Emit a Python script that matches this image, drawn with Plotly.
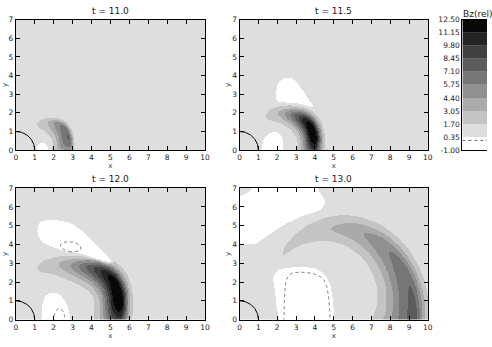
import numpy as np
import plotly.graph_objects as go

# ---------------- data ----------------
panel_titles = ["t = 11.0", "t = 11.5", "t = 12.0", "t = 13.0"]

levels = [-1.00, 0.35, 1.70, 3.05, 4.40, 5.75, 7.10, 8.45, 9.80, 11.15, 12.50]
level_labels = ["-1.00", "0.35", "1.70", "3.05", "4.40", "5.75", "7.10", "8.45", "9.80", "11.15", "12.50"]
band_grays = [255, 222, 196, 170, 144, 118, 92, 64, 36, 8]
zero_level = 0.0
background_value = 1.0
body_radius = 1.0

x_ticks = list(range(0, 11))
y_ticks = list(range(0, 8))

# disturbance front (outer boundary superellipse) per panel
front_cx = [1.80, 2.50, 3.00, 5.50]
front_ax = [1.32, 2.10, 3.20, 4.60]
front_by = [1.72, 2.38, 3.37, 5.35]
front_n = [2.5, 2.5, 3.0, 2.0]
peak_inset = [0.20, 0.29, 0.22, 0.18]
peak_inset_top = [0.15, 0.20, 0.15, 0.10]
peak_amp = [6.2, 12.0, 12.0, 6.5]
width_out = [0.13, 0.16, 0.13, 0.12]
width_in = [0.55, 0.28, 0.27, 0.33]
width_in_top = [0.38, 0.22, 0.20, 0.14]
peak_angle = [27.0, 28.0, 25.0, 0.0]
ang_w_near = [42.0, 46.0, 41.0, 92.0]
ang_w_far = [66.0, 58.0, 60.0, 92.0]

# outlines of the depleted (white, Bz < 0.35) regions and dotted (Bz = 0) contours
white_t110 = [[(1.10, -0.5), (1.10, 0.10), (1.20, 0.30), (1.40, 0.40), (1.60, 0.30), (1.70, 0.10), (1.70, -0.5)]]
white_t115 = [[(1.18, -0.5), (1.18, 0.0), (1.26, 0.55), (1.50, 0.85), (1.88, 0.98), (2.15, 0.85),
               (2.30, 0.55), (2.32, 0.0), (2.32, -0.5)],
              [(1.96, 2.62), (1.96, 3.30), (2.10, 3.65), (2.40, 3.87), (2.84, 3.87), (3.28, 3.30),
               (3.63, 2.80), (3.98, 2.22), (3.60, 2.38), (3.00, 2.50), (2.40, 2.56), (2.10, 2.58)]]
white_t120 = [[(1.35, -0.5), (1.35, 0.0), (1.40, 0.80), (1.60, 1.30), (1.90, 1.45), (2.30, 1.35),
               (2.60, 1.00), (2.80, 0.50), (2.90, 0.0), (2.90, -0.5)],
              [(1.15, 4.28), (1.15, 5.15), (1.70, 5.32), (2.74, 5.23), (3.44, 4.80), (4.13, 4.11),
               (4.82, 3.42), (5.14, 2.99), (4.48, 3.16), (3.60, 3.47), (2.70, 3.62), (1.87, 3.85)]]
white_t130 = [[(-0.5, 4.00), (0.70, 3.95), (1.22, 4.25), (1.92, 4.77), (2.80, 5.28), (3.66, 5.63),
               (4.36, 5.80), (4.62, 6.31), (4.19, 6.83), (4.00, 7.50), (1.05, 7.50), (0.50, 6.75),
               (0.00, 6.57), (-0.5, 6.50)],
              [(2.10, -0.5), (2.10, 0.0), (1.92, 1.00), (1.83, 1.85), (1.75, 2.20), (2.00, 2.60),
               (2.27, 2.71), (3.50, 2.80), (4.36, 2.62), (4.89, 1.85), (5.06, 0.0), (5.06, -0.5)]]
dotted_t110 = []
dotted_t115 = []
dotted_t120 = [[(2.00, -0.5), (2.00, 0.0), (2.05, 0.40), (2.30, 0.65), (2.55, 0.40), (2.60, 0.0), (2.60, -0.5)],
               [(2.31, 3.95), (2.50, 4.12), (2.90, 4.16), (3.30, 4.05), (3.49, 3.80), (3.30, 3.62),
                (2.90, 3.59), (2.50, 3.72)]]
dotted_t130 = [[(2.35, -0.5), (2.35, 0.0), (2.40, 1.90), (2.60, 2.40), (3.00, 2.54), (3.80, 2.50),
                (4.40, 2.25), (4.65, 1.85), (4.80, 0.60), (4.80, 0.0), (4.80, -0.5)]]
white_all = [white_t110, white_t115, white_t120, white_t130]
dotted_all = [dotted_t110, dotted_t115, dotted_t120, dotted_t130]

# ---------------- field construction ----------------
xg = np.linspace(-0.2, 10.2, 417)
yg = np.linspace(-0.2, 7.2, 297)
X, Y = np.meshgrid(xg, yg)


def chaikin(pts, it=3):
    P = np.array(pts, float)
    for _ in range(it):
        Q = np.roll(P, -1, axis=0)
        P = np.stack([0.75 * P + 0.25 * Q, 0.25 * P + 0.75 * Q], axis=1).reshape(-1, 2)
    return P


def signed_dist(pts):
    P = chaikin(pts)
    n = len(P)
    dmin = np.full(X.shape, np.inf)
    inside = np.zeros(X.shape, bool)
    for i in range(n):
        ax_, ay_ = P[i]
        bx, by = P[(i + 1) % n]
        ex, ey = bx - ax_, by - ay_
        L2 = ex * ex + ey * ey + 1e-12
        t = np.clip(((X - ax_) * ex + (Y - ay_) * ey) / L2, 0, 1)
        dmin = np.minimum(dmin, np.hypot(X - (ax_ + t * ex), Y - (ay_ + t * ey)))
        cond = ((ay_ > Y) != (by > Y)) & (X < ex * (Y - ay_) / (ey + 1e-12) + ax_)
        inside ^= cond
    return np.where(inside, dmin, -dmin)


def region_dip(sd, bval, floor):
    return np.where(sd >= 0, np.maximum(bval - 2.0 * sd, floor), bval * np.exp(sd / 0.12))


def field(k):
    n = front_n[k]
    u = (X - front_cx[k]) / front_ax[k]
    v = Y / front_by[k]
    rho = (np.abs(u) ** n + np.abs(v) ** n) ** (1.0 / n)
    phi = np.degrees(np.arctan2(np.abs(v), u))
    frac = phi / 90.0
    inset = np.maximum(peak_inset[k] + (peak_inset_top[k] - peak_inset[k]) * frac, 0.03)
    wi = np.maximum(width_in[k] + (width_in_top[k] - width_in[k]) * frac, 0.05)
    d = rho - (1.0 - inset)
    w = np.where(d < 0, wi, width_out[k])
    prof = np.exp(-(d / w) ** 2)
    dphi = phi - peak_angle[k]
    aw = np.where(dphi < 0, ang_w_near[k], ang_w_far[k])
    amp = peak_amp[k] * np.exp(-(dphi / aw) ** 2)
    ring = amp * prof
    D = np.zeros_like(X)
    mask = np.ones_like(X)
    for pts in white_all[k]:
        sd = signed_dist(pts)
        D = np.minimum(D, region_dip(sd, -0.65, -0.92))
        mask = np.minimum(mask, np.clip(-sd / 0.15, 0, 1))
    for pts in dotted_all[k]:
        sd = signed_dist(pts)
        D = np.minimum(D, region_dip(sd, -1.0, -1.3))
    return background_value + ring * mask + D


# stepped colour scale: one flat grey per contour band between levels[0] and levels[-1]
nb = len(band_grays)
cscale = []
for i, g in enumerate(band_grays):
    c = f"rgb({g},{g},{g})"
    cscale.append([i / nb, c])
    cscale.append([(i + 1) / nb, c])

step = levels[1] - levels[0]

fig = go.Figure()

W, H = 492, 347
px_x = [(14, 206), (241, 432), (14, 206), (241, 432)]
px_y = [(16, 150), (16, 150), (189, 324), (189, 324)]

th = np.linspace(0, np.pi / 2, 60)
FONT = "DejaVu Sans"

for k in range(4):
    ax = "" if k == 0 else str(k + 1)
    z = field(k)
    fig.add_trace(go.Heatmap(
        x=xg, y=yg, z=z, xaxis="x" + ax, yaxis="y" + ax, zmin=levels[0], zmax=levels[-1],
        colorscale=cscale, showscale=False, hoverinfo="skip"))
    if dotted_all[k]:
        fig.add_trace(go.Contour(
            x=xg, y=yg, z=z, xaxis="x" + ax, yaxis="y" + ax,
            contours=dict(start=zero_level, end=zero_level, size=1, coloring="none"),
            line=dict(color="#666666", width=1, dash="dot"), showscale=False, hoverinfo="skip"))
    fig.add_trace(go.Scatter(
        x=body_radius * np.cos(th), y=body_radius * np.sin(th), mode="lines",
        line=dict(color="black", width=1), xaxis="x" + ax, yaxis="y" + ax,
        showlegend=False, hoverinfo="skip"))
    x0, x1 = px_x[k]
    y0, y1 = px_y[k]
    axis_common = dict(showline=True, linecolor="black", linewidth=1, mirror="ticks",
                       ticks="inside", ticklen=4, tickcolor="black", showgrid=False,
                       zeroline=False, tickfont=dict(size=7.5, color="#222", family=FONT))
    fig.layout["xaxis" + ax] = dict(domain=[x0 / W, x1 / W], range=[0, 10], tickvals=x_ticks,
                                    anchor="y" + ax,
                                    title=dict(text="x", font=dict(size=7, family=FONT), standoff=0),
                                    **axis_common)
    fig.layout["yaxis" + ax] = dict(domain=[1 - y1 / H, 1 - y0 / H], range=[0, 7], tickvals=y_ticks,
                                    anchor="x" + ax,
                                    title=dict(text="y", font=dict(size=7, family=FONT), standoff=0),
                                    **axis_common)
    fig.add_annotation(text=panel_titles[k], x=(x0 + x1) / 2 / W, y=1 - (y0 - 2) / H,
                       xref="paper", yref="paper", xanchor="center", yanchor="bottom",
                       showarrow=False, font=dict(size=9, family=FONT, color="#222"))

# colour bar as stacked bars
for i in range(len(band_grays)):
    g = band_grays[i]
    fig.add_trace(go.Bar(x=[0], y=[step], base=[levels[i]], width=1.0,
                         marker=dict(color=f"rgb({g},{g},{g})", line=dict(width=0)),
                         xaxis="x5", yaxis="y5", showlegend=False, hoverinfo="skip"))
fig.add_trace(go.Scatter(x=[-0.5, 0.5], y=[zero_level, zero_level], mode="lines",
                         line=dict(color="#666666", width=1, dash="dot"),
                         xaxis="x5", yaxis="y5", showlegend=False, hoverinfo="skip"))
fig.layout["xaxis5"] = dict(domain=[467 / W, 1.0], range=[-0.5, 0.5], showticklabels=False,
                            showline=True, mirror=True, linecolor="black", ticks="",
                            showgrid=False, zeroline=False, anchor="y5")
fig.layout["yaxis5"] = dict(domain=[1 - 150 / H, 1 - 16 / H], range=[levels[0], levels[-1]],
                            tickvals=levels, ticktext=level_labels, ticks="", showline=True,
                            linecolor="black", showgrid=False, zeroline=False, anchor="x5",
                            tickfont=dict(size=7.5, color="#222", family=FONT))
fig.add_annotation(text="Bz(rel)", x=466 / W, y=1 - 3 / H, xref="paper", yref="paper",
                   xanchor="left", yanchor="top", showarrow=False,
                   font=dict(size=9, family=FONT, color="#222"))

fig.update_layout(width=W, height=H, margin=dict(l=0, r=0, t=0, b=0),
                  paper_bgcolor="white", plot_bgcolor="white", barmode="overlay",
                  showlegend=False)

fig.write_html("out.html")
